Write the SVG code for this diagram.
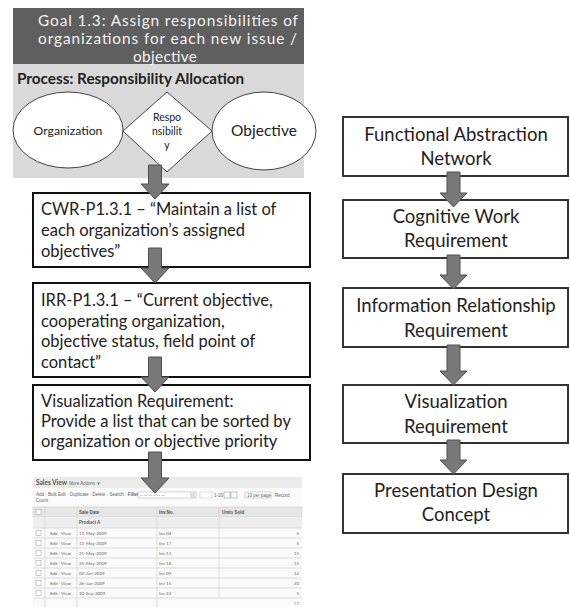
<svg xmlns="http://www.w3.org/2000/svg" width="570" height="607" viewBox="0 0 570 607">
<style>
text{font-family:Lato,"Open Sans","Liberation Sans",sans-serif;}
.box{fill:#fff;stroke:#111;stroke-width:2;}
.rbox{fill:#fff;stroke:#333;stroke-width:2;}
.t{font-size:16.5px;fill:#222;}
.rt{font-size:18.5px;fill:#222;text-anchor:middle;}
.hd{font-size:15.4px;fill:#f2f2f2;}
.arr{fill:#787878;stroke:#505050;stroke-width:1;}
.ss{font-family:"Liberation Sans",Arial,sans-serif;font-size:4.5px;fill:#666;}
.ssb{font-family:"Liberation Sans",Arial,sans-serif;font-size:4.5px;fill:#555;font-weight:bold;}
.grid{stroke:#d4d4d4;stroke-width:0.8;fill:none;}
</style>
<rect width="570" height="607" fill="#fff"/>

<g id="goal">
<rect x="13" y="8" width="291" height="56" fill="#5f5f5f"/>
<rect x="13" y="64" width="291" height="114" fill="#d9d9d9"/>
<text class="hd" x="38" y="25.5" textLength="260" lengthAdjust="spacing">Goal 1.3: Assign responsibilities of</text>
<text class="hd" x="38" y="43.5" textLength="259" lengthAdjust="spacing">organizations for each new issue /</text>
<text class="hd" x="133" y="61.5" textLength="64" lengthAdjust="spacing">objective</text>
<text x="17" y="84" font-size="15.3" font-weight="bold" fill="#222">Process: Responsibility Allocation</text>
</g>
<g id="organization">
<ellipse cx="68" cy="130" rx="55" ry="38" fill="#fff" stroke="#444" stroke-width="1"/>
<text x="68" y="135" text-anchor="middle" font-size="12.2" fill="#222">Organization</text>
</g>
<g id="responsibility">
<polygon points="167,92 212,131 167,172 123,131" fill="#fff" stroke="#444" stroke-width="1"/>
<text x="167" y="121" text-anchor="middle" font-size="10.5" fill="#222">Respo</text>
<text x="167" y="135" text-anchor="middle" font-size="10.5" fill="#222">nsibilit</text>
<text x="167" y="149" text-anchor="middle" font-size="10.5" fill="#222">y</text>
</g>
<g id="objective">
<ellipse cx="264" cy="131" rx="52" ry="39" fill="#fff" stroke="#444" stroke-width="1"/>
<text x="264" y="136" text-anchor="middle" font-size="15.5" fill="#222">Objective</text>
</g>

<g id="cwr">
<rect class="box" x="33" y="193" width="277" height="74"/>
<text class="t" x="41" y="215">CWR-P1.3.1 – “Maintain a list of</text>
<text class="t" x="41" y="236">each organization’s assigned</text>
<text class="t" x="41" y="257">objectives”</text>
</g>
<g id="irr">
<rect class="box" x="33" y="283" width="277" height="94"/>
<text class="t" x="41" y="306">IRR-P1.3.1 – “Current objective,</text>
<text class="t" x="41" y="327">cooperating organization,</text>
<text class="t" x="41" y="347">objective status, field point of</text>
<text class="t" x="41" y="368">contact”</text>
</g>
<g id="visreq">
<rect class="box" x="33" y="385" width="277" height="75"/>
<text class="t" x="41" y="407">Visualization Requirement:</text>
<text class="t" x="41" y="427">Provide a list that can be sorted by</text>
<text class="t" x="41" y="447">organization or objective priority</text>
</g>

<g id="screenshot">
<rect x="33" y="477" width="269" height="130" fill="#fafafa"/>
<rect x="33" y="477" width="269" height="11" fill="#ebebeb"/>
<text x="36" y="485" font-family="Liberation Sans,Arial,sans-serif" font-size="6.5" font-weight="bold" fill="#555">Sales View</text>
<text class="ss" x="69" y="485">More Actions ▼</text>
<text class="ss" x="36" y="496">Add · Bulk Edit · Duplicate · Delete · Search · <tspan font-weight="bold">Filter:</tspan></text>
<rect x="138" y="492" width="58" height="6" fill="#fff" stroke="#bbb" stroke-width="0.6"/>
<text class="ss" x="140" y="496.5">-- -- -- -- -- --</text>
<rect x="190" y="492.5" width="5" height="5" fill="#ddd"/>
<rect x="200" y="492" width="12" height="6" fill="#fff" stroke="#ccc" stroke-width="0.6"/>
<text class="ss" x="214" y="496.5">1-10</text>
<rect x="224" y="492" width="6" height="6" fill="#fff" stroke="#999" stroke-width="0.6"/>
<rect x="231" y="492" width="6" height="6" fill="#fff" stroke="#999" stroke-width="0.6"/>
<rect x="245" y="492" width="26" height="6" fill="#fff" stroke="#bbb" stroke-width="0.6"/>
<text class="ss" x="247" y="496.5">10 per page</text>
<text class="ss" x="275" y="496.5">Record</text>
<text class="ss" x="36" y="502">Count</text>
<rect x="33" y="507" width="269" height="10" fill="#e6e6e6" stroke="#ccc" stroke-width="0.6"/>
<rect x="36" y="509.5" width="5" height="5" fill="#fff" stroke="#999" stroke-width="0.5"/>
<text class="ssb" x="79" y="514">Sale Date</text>
<text class="ssb" x="159" y="514">Inv.No.</text>
<text class="ssb" x="222" y="514">Units Sold</text>
<rect x="33" y="517" width="269" height="11" fill="#eeeeee"/>
<text class="ssb" x="79" y="524">Product A</text>
<g class="grid">
<line x1="45" y1="507" x2="45" y2="607"/>
<line x1="77" y1="507" x2="77" y2="607"/>
<line x1="157" y1="507" x2="157" y2="607"/>
<line x1="219" y1="507" x2="219" y2="598"/>
<line x1="33" y1="528" x2="302" y2="528"/>
<line x1="33" y1="538" x2="302" y2="538"/>
<line x1="33" y1="548" x2="302" y2="548"/>
<line x1="33" y1="558" x2="302" y2="558"/>
<line x1="33" y1="568" x2="302" y2="568"/>
<line x1="33" y1="578" x2="302" y2="578"/>
<line x1="33" y1="588" x2="302" y2="588"/>
<line x1="33" y1="598" x2="302" y2="598"/>
</g>
<g fill="#fff" stroke="#999" stroke-width="0.5">
<rect x="36" y="530.5" width="5" height="5"/>
<rect x="36" y="540.5" width="5" height="5"/>
<rect x="36" y="550.5" width="5" height="5"/>
<rect x="36" y="560.5" width="5" height="5"/>
<rect x="36" y="570.5" width="5" height="5"/>
<rect x="36" y="580.5" width="5" height="5"/>
<rect x="36" y="590.5" width="5" height="5"/>
</g>
<g class="ss">
<text x="50" y="535">Edit · View</text><text x="79" y="535">11-May-2009</text><text x="159" y="535">Inv 04</text><text x="299" y="535" text-anchor="end">5</text>
<text x="50" y="545">Edit · View</text><text x="79" y="545">11-May-2009</text><text x="159" y="545">Inv 17</text><text x="299" y="545" text-anchor="end">5</text>
<text x="50" y="555">Edit · View</text><text x="79" y="555">21-May-2009</text><text x="159" y="555">Inv 11</text><text x="299" y="555" text-anchor="end">15</text>
<text x="50" y="565">Edit · View</text><text x="79" y="565">25-May-2009</text><text x="159" y="565">Inv 18</text><text x="299" y="565" text-anchor="end">15</text>
<text x="50" y="575">Edit · View</text><text x="79" y="575">02-Jun-2009</text><text x="159" y="575">Inv 09</text><text x="299" y="575" text-anchor="end">12</text>
<text x="50" y="585">Edit · View</text><text x="79" y="585">26-Jun-2009</text><text x="159" y="585">Inv 15</text><text x="299" y="585" text-anchor="end">20</text>
<text x="50" y="595">Edit · View</text><text x="79" y="595">30-Sep-2009</text><text x="159" y="595">Inv 22</text><text x="299" y="595" text-anchor="end">5</text>
<text x="299" y="605" text-anchor="end">77</text>
</g>
</g>

<g id="fan">
<rect class="rbox" x="343" y="117" width="225" height="59"/>
<text class="rt" x="456" y="141">Functional Abstraction</text>
<text class="rt" x="456" y="165">Network</text>
</g>
<g id="cwreq">
<rect class="rbox" x="343" y="200" width="225" height="58"/>
<text class="rt" x="456" y="223">Cognitive Work</text>
<text class="rt" x="456" y="247">Requirement</text>
</g>
<g id="irreq">
<rect class="rbox" x="343" y="288" width="225" height="59"/>
<text class="rt" x="456" y="312">Information Relationship</text>
<text class="rt" x="456" y="337">Requirement</text>
</g>
<g id="vreq">
<rect class="rbox" x="343" y="385" width="225" height="58"/>
<text class="rt" x="456" y="408">Visualization</text>
<text class="rt" x="456" y="433">Requirement</text>
</g>
<g id="pdc">
<rect class="rbox" x="343" y="474" width="225" height="59"/>
<text class="rt" x="456" y="497">Presentation Design</text>
<text class="rt" x="456" y="521">Concept</text>
</g>

<g id="connectors">
<polygon class="arr" points="148.5,165 161.5,165 161.5,184 169,184 155,199 141,184 148.5,184"/>
<polygon class="arr" points="148.5,248 161.5,248 161.5,268 169,268 155,283 141,268 148.5,268"/>
<polygon class="arr" points="148.5,357 161.5,357 161.5,377 169,377 155,392 141,377 148.5,377"/>
<polygon class="arr" points="148.5,452 161.5,452 161.5,478 169,478 155,493 141,478 148.5,478"/>
<polygon class="arr" points="447,172 460,172 460,193 467,193 453.5,207 440,193 447,193"/>
<polygon class="arr" points="447,255 460,255 460,275 467,275 453.5,289 440,275 447,275"/>
<polygon class="arr" points="447,345 460,345 460,371 467,371 453.5,385 440,371 447,371"/>
<polygon class="arr" points="447,440 460,440 460,460 467,460 453.5,474 440,460 447,460"/>
</g>
</svg>
